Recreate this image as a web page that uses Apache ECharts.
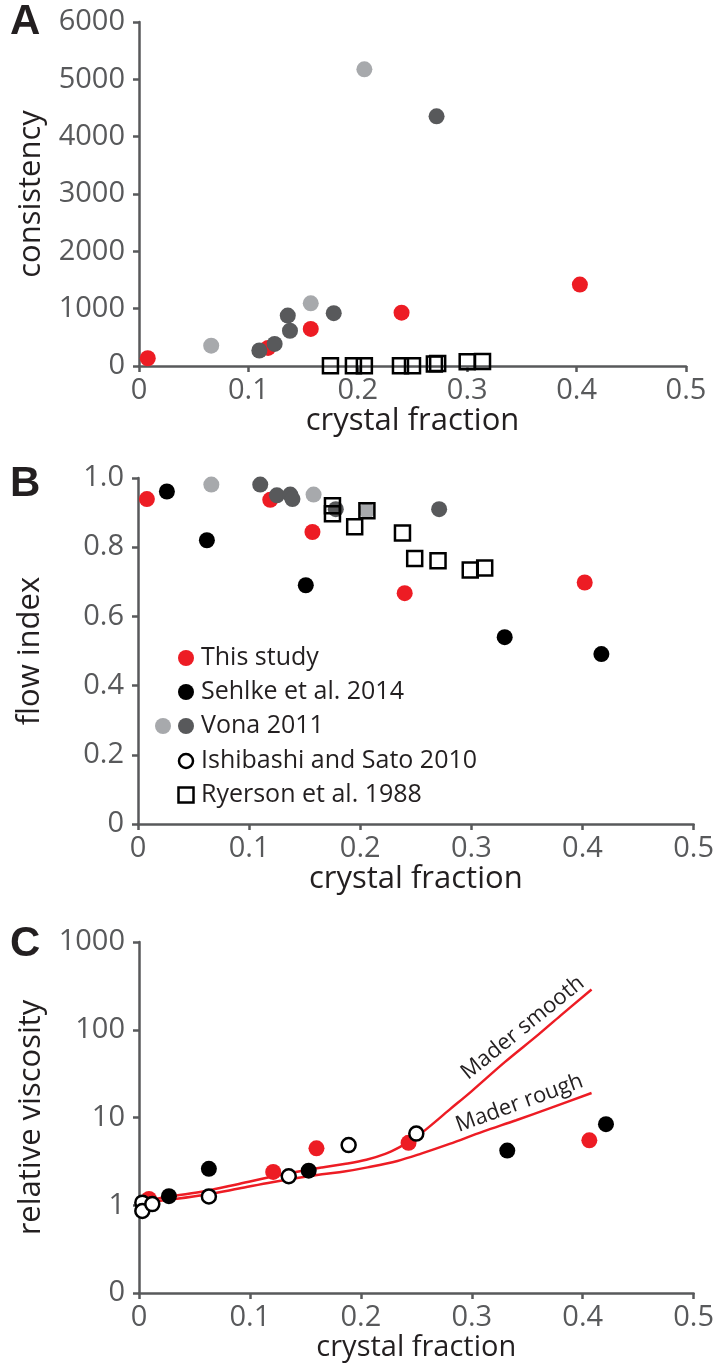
<!DOCTYPE html>
<html>
<head>
<meta charset="utf-8">
<script src="https://cdn.jsdelivr.net/npm/echarts@6/dist/echarts.min.js"></script>
<style>
html,body{margin:0;padding:0;background:#fff;}
#c{width:717px;height:1363px;}
</style>
</head>
<body>
<div id="c"></div>
<script>
// ---------- DATA ----------
const xTicks = [0, 0.1, 0.2, 0.3, 0.4, 0.5];
const legendNames = ['This study', 'Sehlke et al. 2014', 'Vona 2011', 'Ishibashi and Sato 2010', 'Ryerson et al. 1988'];
const curveNames = ['Mader smooth', 'Mader rough'];

// Panel A: consistency
const aThisStudy = [[0.008,135],[0.118,315],[0.157,647],[0.240,930],[0.403,1420]];
const aVonaLight = [[0.066,355],[0.157,1093],[0.206,5175]];
const aVonaDark  = [[0.110,270],[0.124,385],[0.136,880],[0.138,615],[0.178,922],[0.272,4355]];
const aRyerson   = [[0.175,5],[0.196,5],[0.206,5],[0.239,5],[0.250,5],[0.270,35],[0.273,45],[0.300,75],[0.314,80]];

// Panel B: flow index
const bThisStudy = [[0.008,0.939],[0.119,0.937],[0.157,0.844],[0.240,0.667],[0.402,0.698]];
const bSehlke    = [[0.026,0.961],[0.062,0.820],[0.151,0.690],[0.330,0.540],[0.417,0.491]];
const bVonaLight = [[0.066,0.981],[0.158,0.952],[0.206,0.906]];
const bVonaDark  = [[0.110,0.981],[0.125,0.950],[0.137,0.952],[0.139,0.939],[0.178,0.910],[0.271,0.910]];
const bRyerson   = [[0.175,0.920],[0.175,0.897],[0.195,0.859],[0.206,0.905],[0.238,0.841],[0.249,0.767],[0.270,0.761],[0.299,0.734],[0.312,0.740]];

// Panel C: relative viscosity (log)
const cThisStudy = [[0.009,1.18],[0.121,2.4],[0.160,4.45],[0.243,5.15],[0.406,5.5]];
const cSehlke    = [[0.027,1.27],[0.063,2.6],[0.153,2.48],[0.332,4.2],[0.421,8.4]];
const cIshibashi = [[0.003,1.07],[0.003,0.86],[0.012,1.03],[0.063,1.26],[0.135,2.14],[0.189,4.85],[0.250,6.55]];
const maderSmooth = [[0.004,1.12],[0.03,1.27],[0.06,1.45],[0.09,1.75],[0.126,2.2],[0.165,2.7],[0.185,2.95],[0.205,3.3],[0.222,3.85],[0.235,4.6],[0.245,5.5],[0.255,6.7],[0.28,12.3],[0.30,20],[0.33,43],[0.36,88],[0.38,145],[0.408,287]];
const maderRough  = [[0.004,1.07],[0.03,1.17],[0.06,1.32],[0.09,1.55],[0.12,1.83],[0.165,2.25],[0.185,2.42],[0.206,2.7],[0.233,3.2],[0.255,3.9],[0.28,5.0],[0.31,6.9],[0.34,9.3],[0.37,12.7],[0.408,19]];

// ---------- STYLE ----------
const RED = '#ed1c24', BLACK = '#000000', LGRAY = '#a7a9ac', DGRAY = '#58595b';
const AXIS = '#58595b', TXT = '#231f20';
const FONT = '"Open Sans", "Noto Sans", sans-serif';

const chart = echarts.init(document.getElementById('c'), null, {renderer:'canvas'});

function xAxis(gi) {
  return {
    type:'value', gridIndex:gi, min:0, max:0.5, interval:0.1,
    name:'crystal fraction', nameLocation:'middle', nameGap: gi===2 ? 37 : 35,
    nameTextStyle:{color:TXT, fontSize: gi===2 ? 29 : 31, fontFamily:FONT},
    axisLine:{show:true, onZero:false, lineStyle:{color:AXIS, width:2.5}},
    axisTick:{show:true, inside:false, length:6, lineStyle:{color:AXIS, width:2.5}},
    axisLabel:{color:AXIS, fontSize:29, fontFamily:FONT, margin:10,
      formatter: v => v === 0 ? '0' : v.toFixed(1)},
    splitLine:{show:false}
  };
}
function yBase(gi, name) {
  return {
    gridIndex:gi, name:name, nameLocation:'middle', nameGap:92,
    nameTextStyle:{color:TXT, fontSize:31, fontFamily:FONT},
    axisLine:{show:true, onZero:false, lineStyle:{color:AXIS, width:2.5}},
    axisTick:{show:true, inside:false, length:6, lineStyle:{color:AXIS, width:2.5}},
    axisLabel:{color:AXIS, fontSize:29, fontFamily:FONT, margin:14},
    splitLine:{show:false}
  };
}

const yA = Object.assign(yBase(0,'consistency'), {type:'value', min:0, max:6000, interval:1000});
yA.axisLabel.formatter = v => String(v);
const yB = Object.assign(yBase(1,'flow index'), {type:'value', min:0, max:1, interval:0.2});
yB.axisLabel.formatter = v => v === 0 ? '0' : v.toFixed(1);
const yC = Object.assign(yBase(2,'relative viscosity'), {type:'log', logBase:10, min:0.1, max:1000});
yC.axisLabel.formatter = v => v < 1 ? '0' : String(Math.round(v));

function dots(name, data, xi, color, z) {
  return {type:'scatter', name, xAxisIndex:xi, yAxisIndex:xi, data, symbol:'circle', symbolSize:16,
    itemStyle:{color, opacity:1}, z:z||3, clip:false, silent:true};
}
function boxes(name, data, xi) {
  return {type:'scatter', name, xAxisIndex:xi, yAxisIndex:xi, data, symbol:'rect', symbolSize:15,
    itemStyle:{color:'rgba(0,0,0,0)', borderColor:'#000', borderWidth:2.5, opacity:1}, z:8, clip:false, silent:true};
}
function rings(name, data, xi) {
  return {type:'scatter', name, xAxisIndex:xi, yAxisIndex:xi, data, symbol:'circle', symbolSize:14,
    itemStyle:{color:'#ffffff', borderColor:'#000', borderWidth:2.5, opacity:1}, z:8, clip:false, silent:true};
}
function curve(name, data, label) {
  return {type:'line', name, xAxisIndex:2, yAxisIndex:2, data, smooth:0.35, showSymbol:false, symbol:'none',
    lineStyle:{color:RED, width:2.5}, z:2, silent:true, clip:false,
    markPoint:{symbol:'circle', symbolSize:0, silent:true,
      data:[{coord:label.at, value:name,
        label:{show:true, formatter:name, rotate:label.rot, color:TXT, fontSize:22, fontFamily:FONT, position:'inside'}}]}
  };
}

// legend built from names
const legendRowY = [658, 692, 726, 761, 795];
const legendItems = [];
const legendSymbols = [
  [{kind:'dot', color:RED}],
  [{kind:'dot', color:BLACK}],
  [{kind:'dot', color:LGRAY, dx:-23}, {kind:'dot', color:DGRAY}],
  [{kind:'ring'}],
  [{kind:'box'}]
];
legendNames.forEach((n, i) => {
  const cy = legendRowY[i];
  legendSymbols[i].forEach(s => {
    const cx = 186 + (s.dx || 0);
    if (s.kind === 'dot') legendItems.push({type:'circle', shape:{cx, cy, r:8}, style:{fill:s.color}});
    if (s.kind === 'ring') legendItems.push({type:'circle', shape:{cx, cy, r:7}, style:{fill:'#fff', stroke:'#000', lineWidth:2.5}});
    if (s.kind === 'box') legendItems.push({type:'rect', shape:{x:cx-7.5, y:cy-7.5, width:15, height:15}, style:{fill:'none', stroke:'#000', lineWidth:2.5}});
  });
  legendItems.push({type:'text', x:201, y:cy, style:{text:n, fill:TXT, fontSize:25, fontFamily:FONT, verticalAlign:'middle', align:'left'}});
});
const letters = [['A',10,22],['B',10,484],['C',10,944]].map(([t,x,y]) => ({
  type:'text', x, y, style:{text:t, fill:TXT, fontSize:42, fontWeight:'bold', fontFamily:'"Liberation Sans", Arial, sans-serif', verticalAlign:'middle'}
}));

chart.setOption({
  animation:false,
  backgroundColor:'#fff',
  grid:[
    {left:139, top:22, width:547, height:344},
    {left:138, top:478, width:560, height:346},
    {left:139, top:942, width:559, height:351}
  ],
  xAxis:[xAxis(0), xAxis(1), xAxis(2)],
  yAxis:[yA, yB, yC],
  series:[
    dots('This study', aThisStudy, 0, RED, 3),
    dots('Vona 2011 light', aVonaLight, 0, LGRAY, 4),
    dots('Vona 2011 dark', aVonaDark, 0, DGRAY, 5),
    boxes('Ryerson et al. 1988', aRyerson, 0),

    dots('This study', bThisStudy, 1, RED, 3),
    dots('Sehlke et al. 2014', bSehlke, 1, BLACK, 3),
    dots('Vona 2011 light', bVonaLight, 1, LGRAY, 4),
    dots('Vona 2011 dark', bVonaDark, 1, DGRAY, 5),
    boxes('Ryerson et al. 1988', bRyerson, 1),

    curve(curveNames[0], maderSmooth, {at:[0.346,105], rot:39}),
    curve(curveNames[1], maderRough, {at:[0.343,14.5], rot:20}),
    dots('This study', cThisStudy, 2, RED, 3),
    dots('Sehlke et al. 2014', cSehlke, 2, BLACK, 4),
    rings('Ishibashi and Sato 2010', cIshibashi, 2)
  ],
  graphic: legendItems.concat(letters)
});
</script>
</body>
</html>
